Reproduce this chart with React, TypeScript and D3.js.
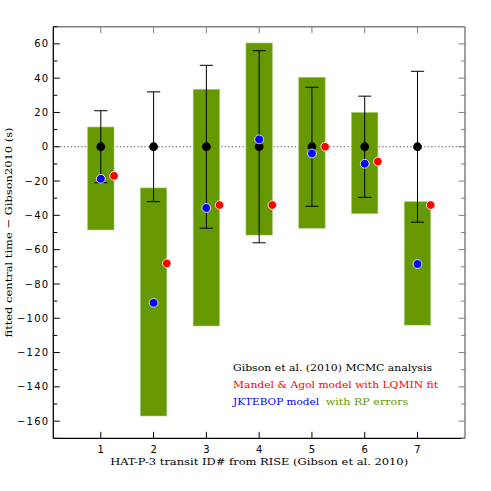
import React from 'react';
import * as d3 from 'd3';

// transit IDs and fitted central time offsets (s) relative to Gibson2010
const transits = [1, 2, 3, 4, 5, 6, 7];
const rpHigh = [11.5, -24, 33.5, 60.5, 40.5, 20, -32];
const rpLow = [-48.5, -157, -104.5, -51.5, -47.5, -39, -104];
const mcmcValue = [0, 0, 0, 0, 0, 0, 0];
const mcmcErr = [21, 32, 47.5, 56, 34.7, 29.5, 44];
const lqminValue = [-17, -68, -34, -34, 0, -8.6, -34];
const jktebopValue = [-18.7, -91, -35.7, 4.3, -3.9, -9.9, -68.4];

const yMajor = [-160, -140, -120, -100, -80, -60, -40, -20, 0, 20, 40, 60];
const yMinor = [-170, -150, -130, -110, -90, -70, -50, -30, -10, 10, 30, 50, 70];

const W = 491;
const H = 491;
const margin = { top: 26.7, right: 26, bottom: 52.7, left: 53.3 };

const serif = '"DejaVu Serif", serif';
const sans = '"DejaVu Sans", sans-serif';

const App = () => {
  const x = d3.scaleLinear().domain([0.1, 7.9]).range([margin.left, W - margin.right]);
  const y = d3.scaleLinear().domain([-170, 70]).range([H - margin.bottom, margin.top]);

  const x0 = margin.left;
  const x1 = W - margin.right;
  const y0 = H - margin.bottom;
  const y1 = margin.top;

  const halfBar = x(0.25) - x(0);
  const cap = x(0.125) - x(0);
  const redShift = x(0.25) - x(0);

  return (
    <svg width={W} height={H} style={{ position: 'absolute', left: 0, top: 0, background: '#fff' }}>
      {/* zero line */}
      <line x1={x0} x2={x1} y1={y(0)} y2={y(0)} stroke="#555" strokeWidth={1.2} strokeDasharray="1.3,2.2" />

      {/* RP error boxes */}
      {transits.map((t, i) => (
        <rect
          key={'b' + t}
          x={x(t) - halfBar}
          y={y(rpHigh[i])}
          width={halfBar * 2}
          height={y(rpLow[i]) - y(rpHigh[i])}
          fill="#669900"
          stroke="#a9c97a"
          strokeWidth={0.6}
        />
      ))}

      {/* MCMC error bars */}
      {transits.map((t, i) => {
        const cx = x(t);
        const top = y(mcmcValue[i] + mcmcErr[i]);
        const bot = y(mcmcValue[i] - mcmcErr[i]);
        return (
          <g key={'e' + t} stroke="#000" strokeWidth={1}>
            <line x1={cx} x2={cx} y1={top} y2={bot} />
            <line x1={cx - cap} x2={cx + cap} y1={top} y2={top} />
            <line x1={cx - cap} x2={cx + cap} y1={bot} y2={bot} />
          </g>
        );
      })}

      {transits.map((t, i) => (
        <circle key={'k' + t} cx={x(t)} cy={y(mcmcValue[i])} r={4.4} fill="#000" />
      ))}
      {transits.map((t, i) => (
        <circle key={'r' + t} cx={x(t) + redShift} cy={y(lqminValue[i])} r={4.3} fill="#ff0000" stroke="#fff" strokeWidth={0.8} />
      ))}
      {transits.map((t, i) => (
        <circle key={'j' + t} cx={x(t)} cy={y(jktebopValue[i])} r={4.4} fill="#0000ff" stroke="#fff" strokeWidth={0.8} />
      ))}

      {/* frame */}
      <line x1={x0} x2={x1} y1={y1} y2={y1} stroke="#808080" strokeWidth={1.5} />
      <line x1={x1} x2={x1} y1={y1} y2={y0} stroke="#808080" strokeWidth={1.5} />
      <line x1={x0} x2={x1} y1={y0} y2={y0} stroke="#000" strokeWidth={1.3} />
      <line x1={x0} x2={x0} y1={y1} y2={y0} stroke="#000" strokeWidth={1.3} />

      {/* y ticks */}
      {yMajor.map(v => (
        <g key={'ym' + v}>
          <line x1={x0} x2={x0 + 6.5} y1={y(v)} y2={y(v)} stroke="#000" strokeWidth={1} />
          <line x1={x1} x2={x1 - 6.5} y1={y(v)} y2={y(v)} stroke="#808080" strokeWidth={1} />
          <text x={x0 - 4} y={y(v) + 3.6} textAnchor="end" fontFamily={sans} fontSize={10} letterSpacing={1.2} fill="#000">
            {v < 0 ? '\u2212' + Math.abs(v) : String(v)}
          </text>
        </g>
      ))}
      {yMinor.map(v => (
        <g key={'yn' + v}>
          <line x1={x0} x2={x0 + 4} y1={y(v)} y2={y(v)} stroke="#000" strokeWidth={1} />
          <line x1={x1} x2={x1 - 4} y1={y(v)} y2={y(v)} stroke="#808080" strokeWidth={1} />
        </g>
      ))}

      {/* x ticks */}
      {transits.map(t => (
        <g key={'xt' + t}>
          <line x1={x(t)} x2={x(t)} y1={y0} y2={y0 - 6.5} stroke="#000" strokeWidth={1} />
          <line x1={x(t)} x2={x(t)} y1={y1} y2={y1 + 6.5} stroke="#808080" strokeWidth={1} />
          <text x={x(t)} y={y0 + 14.5} textAnchor="middle" fontFamily={sans} fontSize={10} fill="#000">
            {t}
          </text>
        </g>
      ))}

      {/* axis titles */}
      <text x={(x0 + x1) / 2} y={y0 + 27} textAnchor="middle" fontFamily={serif} fontSize={10} textLength={298} lengthAdjust="spacingAndGlyphs" fill="#000">
        HAT-P-3 transit ID# from RISE (Gibson et al. 2010)
      </text>
      <text
        transform={`translate(12,${(y0 + y1) / 2}) rotate(-90)`}
        textAnchor="middle"
        fontFamily={serif}
        fontSize={10}
        textLength={210}
        lengthAdjust="spacingAndGlyphs"
        fill="#000"
      >
        fitted central time {'\u2212'} Gibson2010 (s)
      </text>

      {/* legend */}
      <text x={233} y={370.5} fontFamily={serif} fontSize={10} textLength={199} lengthAdjust="spacingAndGlyphs" fill="#000">
        Gibson et al. (2010) MCMC analysis
      </text>
      <text x={233} y={388} fontFamily={serif} fontSize={10} textLength={205} lengthAdjust="spacingAndGlyphs" fill="#ff0000">
        Mandel &amp; Agol model with LQMIN fit
      </text>
      <text x={233} y={405} fontFamily={serif} fontSize={10} textLength={86} lengthAdjust="spacingAndGlyphs" fill="#0000ff">
        JKTEBOP model
      </text>
      <text x={325.7} y={405} fontFamily={serif} fontSize={10} textLength={82.6} lengthAdjust="spacingAndGlyphs" fill="#669900">
        with RP errors
      </text>
    </svg>
  );
};

export default App;
